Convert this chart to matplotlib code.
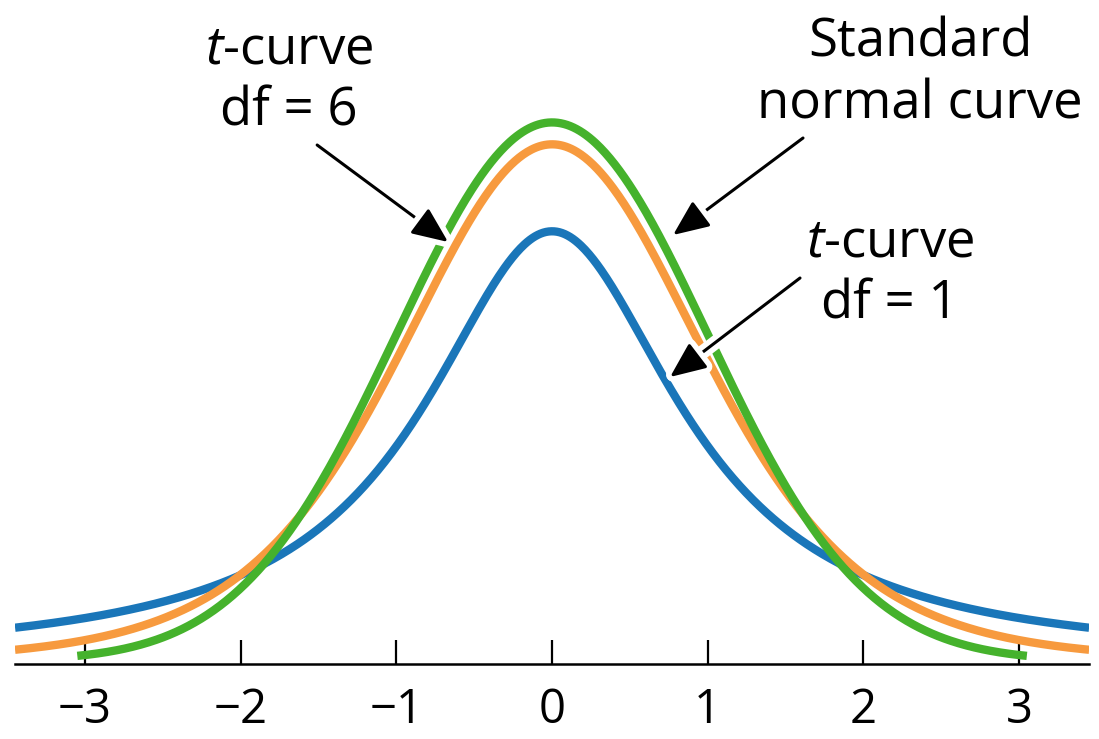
import math
import numpy as np
import matplotlib
matplotlib.use("Agg")
import matplotlib.pyplot as plt
import matplotlib.patheffects as pe

plt.rcParams['font.family'] = ['Open Sans', 'DejaVu Sans']
plt.rcParams['mathtext.fontset'] = 'custom'
plt.rcParams['mathtext.rm'] = 'Open Sans'
plt.rcParams['mathtext.it'] = 'Open Sans:italic'

# ---- Curves: degrees of freedom, colours, plotted x-range ----
t_dfs = [1, 6]
t_colors = ['#1a76b9', '#f79a3e']
normal_color = '#45b22c'
normal_xmax = 3.05

tick_values = [-3, -2, -1, 0, 1, 2, 3]
tick_labels = ['\u22123', '\u22122', '\u22121', '0', '1', '2', '3']


def t_pdf(x, df):
    c = math.gamma((df + 1) / 2) / (math.sqrt(df * math.pi) * math.gamma(df / 2))
    return c * (1 + x ** 2 / df) ** (-(df + 1) / 2)


def normal_pdf(x):
    return np.exp(-x ** 2 / 2) / math.sqrt(2 * math.pi)


fig = plt.figure(figsize=(10.99, 7.39), dpi=100)
ax = fig.add_axes([0.0137, 0.1015, 0.9773, 0.7713])

x = np.linspace(-3.45, 3.45, 800)
lw = 6.0
for df, col in zip(t_dfs, t_colors):
    ax.plot(x, t_pdf(x, df), color=col, lw=lw, solid_capstyle='butt', zorder=2)

xn = np.linspace(-normal_xmax, normal_xmax, 600)
ax.plot(xn, normal_pdf(xn), color=normal_color, lw=lw, solid_capstyle='butt', zorder=3)

ax.set_xlim(-3.45, 3.45)
ax.set_ylim(-0.0022, 0.42)

# axis: only the baseline with inward ticks
for s in ['left', 'right', 'top']:
    ax.spines[s].set_visible(False)
ax.spines['bottom'].set_position(('data', -0.0022))
ax.spines['bottom'].set_linewidth(1.8)
ax.set_yticks([])
ax.set_xticks(tick_values)
ax.set_xticklabels(tick_labels, fontsize=34)
ax.tick_params(axis='x', direction='in', length=17, width=1.6, pad=16)


def px2data(px, py):
    return (px - 552) / 155.7, (661 - py) / 1350


text_kw = dict(fontsize=38, ha='center', va='baseline', multialignment='center',
               linespacing=1.2)

ax.text(*px2data(289, 125), '$t$-curve\ndf = 6', **text_kw)
ax.text(*px2data(920, 118), 'Standard\nnormal curve', **text_kw)
ax.text(*px2data(890, 318), '$t$-curve\ndf = 1', **text_kw)

arrows = [
    ((317, 145), (448, 242)),
    ((803, 138), (673, 235)),
    ((800, 278), (670, 377)),
]
for tail, tip in arrows:
    ann = ax.annotate('', xy=px2data(*tip), xytext=px2data(*tail),
                      arrowprops=dict(arrowstyle='-|>,head_length=2.2,head_width=0.95',
                                      color='black', lw=2.2, shrinkA=0, shrinkB=0),
                      zorder=5)
    ann.arrow_patch.set_path_effects([pe.Stroke(linewidth=10, foreground='white'),
                                      pe.Normal()])

fig.savefig('out.png', dpi=100)
